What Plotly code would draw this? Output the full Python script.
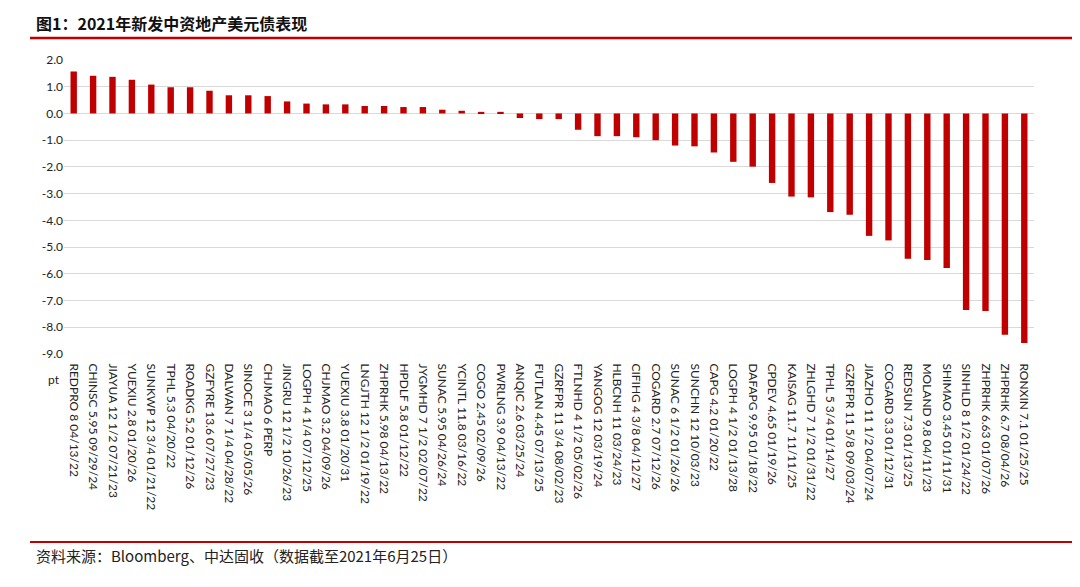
import plotly.graph_objects as go

bonds = [
    "REDPRO 8 04/13/22", "CHINSC 5.95 09/29/24", "JIAYUA 12 1/2 07/21/23", "YUEXIU 2.8 01/20/26",
    "SUNKWP 12 3/4 01/21/22", "TPHL 5.3 04/20/22", "ROADKG 5.2 01/12/26", "GZFYRE 13.6 07/27/23",
    "DALWAN 7 1/4 04/28/22", "SINOCE 3 1/4 05/05/26", "CHJMAO 6 PERP", "JINGRU 12 1/2 10/26/23",
    "LOGPH 4 1/4 07/12/25", "CHJMAO 3.2 04/09/26", "YUEXIU 3.8 01/20/31", "LNGJTH 12 1/2 01/19/22",
    "ZHPRHK 5.98 04/13/22", "HPDLF 5.8 01/12/22", "JYGMHD 7 1/2 02/07/22", "SUNAC 5.95 04/26/24",
    "YCINTL 11.8 03/16/22", "COGO 2.45 02/09/26", "PWRLNG 3.9 04/13/22", "ANQIC 2.6 03/25/24",
    "FUTLAN 4.45 07/13/25", "GZRFPR 11 3/4 08/02/23", "FTLNHD 4 1/2 05/02/26", "YANGOG 12 03/19/24",
    "HLBCNH 11 03/24/23", "CIFIHG 4 3/8 04/12/27", "COGARD 2.7 07/12/26", "SUNAC 6 1/2 01/26/26",
    "SUNCHN 12 10/03/23", "CAPG 4.2 01/20/22", "LOGPH 4 1/2 01/13/28", "DAFAPG 9.95 01/18/22",
    "CPDEV 4.65 01/19/26", "KAISAG 11.7 11/11/25", "ZHLGHD 7 1/2 01/31/22", "TPHL 5 3/4 01/14/27",
    "GZRFPR 11 5/8 09/03/24", "JIAZHO 11 1/2 04/07/24", "COGARD 3.3 01/12/31", "REDSUN 7.3 01/13/25",
    "MOLAND 9.8 04/11/23", "SHIMAO 3.45 01/11/31", "SINHLD 8 1/2 01/24/22", "ZHPRHK 6.63 01/07/26",
    "ZHPRHK 6.7 08/04/26", "RONXIN 7.1 01/25/25",
]

changes_pt = [
    1.57, 1.41, 1.37, 1.26, 1.08, 0.98, 0.98, 0.85, 0.68, 0.68,
    0.65, 0.45, 0.37, 0.34, 0.34, 0.28, 0.28, 0.24, 0.24, 0.14,
    0.10, 0.06, 0.06, -0.17, -0.21, -0.21, -0.61, -0.85, -0.85, -0.89,
    -1.00, -1.20, -1.23, -1.46, -1.81, -1.99, -2.60, -3.11, -3.14, -3.69,
    -3.79, -4.58, -4.75, -5.44, -5.48, -5.78, -7.35, -7.39, -8.28, -8.59,
]

y_ticks = [2.0, 1.0, 0.0, -1.0, -2.0, -3.0, -4.0, -5.0, -6.0, -7.0, -8.0, -9.0]
y_tick_labels = [f"{v:.1f}" for v in y_ticks]

title_text = "图1：2021年新发中资地产美元债表现"
source_text = "资料来源：Bloomberg、中达固收（数据截至2021年6月25日）"
unit_text = "pt"

RED = "#C00000"
OFF = 8  # page body margin
W, H = 1080 - OFF, 587 - OFF
ml = 64 - OFF
mt = 60 - OFF
mr = W - (1034 - OFF)
mb = H - (354 - OFF)
pw, ph = W - ml - mr, H - mt - mb


def px_x(x):
    return (x - OFF - ml) / pw


def px_y(y):
    return (H - mb - (y - OFF)) / ph


fig = go.Figure(
    go.Bar(
        x=bonds,
        y=changes_pt,
        marker=dict(color=RED, line=dict(width=0)),
        width=0.33,
        hoverinfo="x+y",
    )
)

fig.update_layout(
    width=W,
    height=H,
    margin=dict(l=ml, r=mr, t=mt, b=mb),
    paper_bgcolor="white",
    plot_bgcolor="white",
    showlegend=False,
    font=dict(family="Lato, Noto Sans", size=12, color="#222222"),
    xaxis=dict(
        type="category",
        tickangle=90,
        tickfont=dict(family="Lato, Noto Sans", size=12, color="#222222"),
        showgrid=False,
        showline=False,
        zeroline=False,
        ticks="outside",
        ticklen=6,
        tickcolor="rgba(0,0,0,0)",
    ),
    yaxis=dict(
        range=[-9.0, 2.0],
        tickvals=y_ticks,
        ticktext=y_tick_labels,
        tickfont=dict(family="Lato, Noto Sans", size=12, color="#222222"),
        showgrid=True,
        gridcolor="#D9D9D9",
        gridwidth=1,
        zeroline=True,
        zerolinecolor="#D9D9D9",
        zerolinewidth=1,
        showline=False,
        ticks="",
    ),
    annotations=[
        dict(
            text=f"<b>{title_text}</b>",
            xref="paper", yref="paper",
            x=px_x(34), y=px_y(9),
            xanchor="left", yanchor="top",
            showarrow=False,
            font=dict(family="Noto Sans CJK SC", size=16, color="#111111"),
        ),
        dict(
            text=source_text,
            xref="paper", yref="paper",
            x=px_x(34), y=px_y(555),
            xanchor="left", yanchor="middle",
            showarrow=False,
            font=dict(family="Noto Sans CJK SC", size=15, color="#222222"),
        ),
        dict(
            text=unit_text,
            xref="paper", yref="paper",
            x=px_x(62), y=px_y(379),
            xanchor="right", yanchor="middle",
            showarrow=False,
            font=dict(family="Lato, Noto Sans", size=12, color="#222222"),
        ),
    ],
    shapes=[
        dict(type="line", xref="paper", yref="paper",
             x0=px_x(30), x1=px_x(1080), y0=px_y(38), y1=px_y(38),
             line=dict(color=RED, width=2.5)),
        dict(type="line", xref="paper", yref="paper",
             x0=px_x(30), x1=px_x(1080), y0=px_y(542), y1=px_y(542),
             line=dict(color=RED, width=2)),
    ],
)

fig.write_html("out.html")
